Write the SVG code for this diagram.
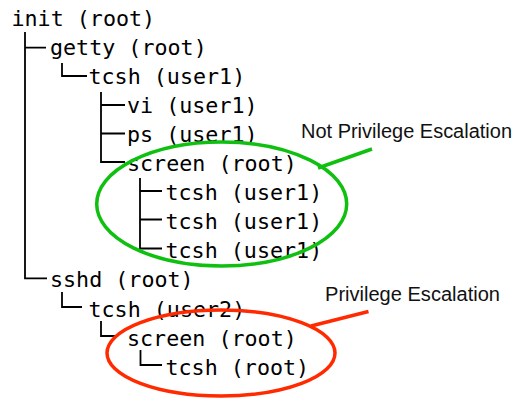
<svg xmlns="http://www.w3.org/2000/svg" width="515" height="400" viewBox="0 0 515 400">
  <style>
    .proc { font-family: "DejaVu Sans Mono", "Liberation Mono", monospace; font-size: 21.7px; fill: #000; }
    .label { font-family: "Liberation Sans", Arial, sans-serif; font-size: 19.5px; fill: #111; }
    .tree { fill: none; stroke: #000; stroke-width: 1.8; }
    .ok { fill: none; stroke: #10c010; stroke-width: 3.5; }
    .bad { fill: none; stroke: #ff2a00; stroke-width: 3.5; }
  </style>
  <rect width="515" height="400" fill="#fff"/>

  <!-- tree branches -->
  <g id="connectors" class="tree">
    <path d="M25 32 V278.3 H47 M25 47.7 H46"/>
    <path d="M62 63 V76 H87"/>
    <path d="M101 92 V162 H125 M101 105 H125 M101 133.5 H125"/>
    <path d="M140 178 V248.5 H162 M140 191 H162 M140 219.5 H162"/>
    <path d="M62 292 V307 H82"/>
    <path d="M101 321 V336 H116.5"/>
    <path d="M140.5 350 V365 H162"/>
  </g>

  <g id="init"><text class="proc" x="11.5" y="26">init (root)</text></g>
  <g id="getty"><text class="proc" x="50" y="55">getty (root)</text></g>
  <g id="tcsh-user1"><text class="proc" x="88.5" y="84">tcsh (user1)</text></g>
  <g id="vi"><text class="proc" x="127" y="113">vi (user1)</text></g>
  <g id="ps"><text class="proc" x="127" y="142">ps (user1)</text></g>
  <g id="screen-a"><text class="proc" x="127" y="171">screen (root)</text></g>
  <g id="tcsh-a1"><text class="proc" x="165.5" y="200">tcsh (user1)</text></g>
  <g id="tcsh-a2"><text class="proc" x="165.5" y="229">tcsh (user1)</text></g>
  <g id="tcsh-a3"><text class="proc" x="165.5" y="258">tcsh (user1)</text></g>
  <g id="sshd"><text class="proc" x="50" y="287">sshd (root)</text></g>
  <g id="tcsh-user2"><text class="proc" x="88.5" y="316.5">tcsh (user2)</text></g>
  <g id="screen-b"><text class="proc" x="127" y="345.5">screen (root)</text></g>
  <g id="tcsh-root"><text class="proc" x="165.5" y="375">tcsh (root)</text></g>

  <!-- annotations -->
  <g id="not-escalation">
    <ellipse class="ok" cx="221.7" cy="204" rx="125" ry="62"/>
    <path class="ok" d="M318 168 L372 149"/>
    <text class="label" x="301" y="138.3" textLength="211" lengthAdjust="spacingAndGlyphs">Not Privilege Escalation</text>
  </g>
  <g id="escalation">
    <ellipse class="bad" cx="221" cy="353" rx="114" ry="43"/>
    <path class="bad" d="M311 326 L368.5 311.5"/>
    <text class="label" x="325" y="300.7" textLength="175" lengthAdjust="spacingAndGlyphs">Privilege Escalation</text>
  </g>
</svg>
